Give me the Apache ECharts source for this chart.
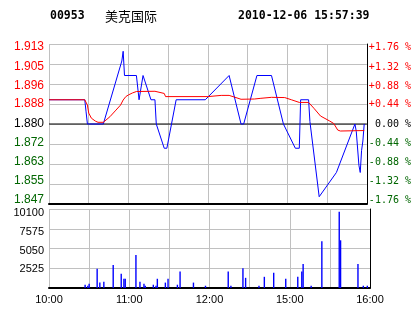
<!DOCTYPE html>
<html><head><meta charset="utf-8">
<script src="https://cdn.jsdelivr.net/npm/echarts@6/dist/echarts.min.js"></script>
<style>html,body{margin:0;padding:0;background:#fff}#c{width:414px;height:314px}</style>
</head><body><div id="c"></div>
<script>
const stockCode = '00953';
const stockName = '美克国际';
const stamp = '2010-12-06 15:57:39';
const prevClose = 1.880;
const priceStep = 0.00825;
const leftTickLabels = ['1.847','1.855','1.863','1.872','1.880','1.888','1.896','1.905','1.913'];
const rightTickLabels = ['-1.76 %','-1.32 %','-0.88 %','-0.44 %',' 0.00 %','+0.44 %','+0.88 %','+1.32 %','+1.76 %'];
const volTickLabels = ['', '2525', '5050', '7575', '10100'];
const xTickLabels = ['10:00','','11:00','','12:00','','15:00','','16:00'];

const priceTimes = ['10:00','10:27','10:28','10:29','10:41','10:55','10:56','10:57','11:06','11:08','11:11','11:12','11:17','11:20','11:21','11:27','11:29','11:36','11:58','12:16','12:25','12:27','14:37','14:48','14:57','15:06','15:09','15:10','15:16','15:17','15:24','15:37','15:51','15:52','15:54','15:55','15:56','15:57','15:58'];
const priceValues = [1.890,1.890,1.885,1.880,1.880,1.906,1.910,1.900,1.900,1.890,1.900,1.900,1.890,1.890,1.880,1.870,1.870,1.890,1.890,1.900,1.880,1.880,1.900,1.900,1.880,1.870,1.870,1.890,1.890,1.881,1.850,1.860,1.880,1.877,1.863,1.860,1.869,1.873,1.880];

const avgTimes = ['10:00','10:27','10:28','10:29','10:30','10:32','10:35','10:37','10:41','10:46','10:50','10:54','10:56','10:58','11:00','11:03','11:06','11:20','11:21','11:27','11:28','12:00','12:10','12:16','12:20','12:25','14:35','14:40','14:48','14:58','15:03','15:09','15:16','15:20','15:25','15:32','15:35','15:38','15:40','15:58'];
const avgValues = [1.8900,1.8900,1.8895,1.8878,1.8845,1.8824,1.8812,1.8807,1.8807,1.8830,1.8854,1.8878,1.8899,1.8913,1.8920,1.8928,1.8934,1.8935,1.8929,1.8926,1.8913,1.8913,1.8918,1.8918,1.8911,1.8902,1.8903,1.8906,1.8910,1.8909,1.8900,1.8889,1.8889,1.8865,1.8833,1.8812,1.8802,1.8775,1.8771,1.8773];

const volTimes = ['10:27','10:29','10:30','10:36','10:38','10:41','10:48','10:54','10:56','10:57','11:05','11:08','11:11','11:12','11:18','11:20','11:21','11:27','11:29','11:36','11:38','11:48','11:57','12:14','12:16','12:25','12:27','14:37','14:41','14:48','14:57','15:06','15:09','15:10','15:16','15:24','15:37','15:38','15:51','15:55','15:58'];
const volValues = [420,290,550,2450,690,800,2950,1810,1180,1180,4210,800,550,290,420,290,1180,690,1180,420,2100,690,290,2100,290,2520,1300,290,1430,1940,1180,1430,2100,3070,290,5970,9760,6100,3070,290,290];

function tradeMinute(t) {
  const p = t.split(':').map(Number);
  let v = p[0] * 60 + p[1] - 600;
  if (v >= 270) v -= 120;
  return v;
}
function toStep(price) { return (price - prevClose) / priceStep; }

const priceData = priceTimes.map((t, i) => [tradeMinute(t), toStep(priceValues[i])]);
const avgData = avgTimes.map((t, i) => [tradeMinute(t), toStep(avgValues[i])]);
const volData = volTimes.map((t, i) => [tradeMinute(t), volValues[i]]);
const zeroData = [[0, toStep(prevClose)], [240, toStep(prevClose)]];

const RED = '#ff0000', GREEN = '#006600', GRIDC = '#c0c0c0';
function sideColor(v) { const k = Math.round(Number(v)); return k > 0 ? RED : (k < 0 ? GREEN : '#000'); }

// label nudges (px, positive = down) so labels sit as in the reference
const priceLabelShift = [-4, -3, -2, -1, 0, 0, 2, 3, 3];
const volLabelShift = [0, 1, 2, 3, 4];
function makeRich(shifts) {
  const r = {};
  shifts.forEach((d, i) => {
    r['s' + i] = {padding: d >= 0 ? [2 * d, 0, 0, 0] : [0, 0, -2 * d, 0]};
  });
  return r;
}
const priceRich = makeRich(priceLabelShift);
const volRich = makeRich(volLabelShift);

const chart = echarts.init(document.getElementById('c'), null, {renderer: 'canvas'});
chart.setOption({
  animation: false,
  backgroundColor: '#fff',
  graphic: [
    {type: 'text', x: 50, y: 16, style: {text: stockCode, font: 'bold 11.5px "DejaVu Sans Mono"', fill: '#000', verticalAlign: 'middle'}},
    {type: 'text', x: 105, y: 16, style: {text: stockName, font: '13px "Noto Sans CJK SC"', fill: '#000', verticalAlign: 'middle'}},
    {type: 'text', x: 238, y: 16, style: {text: stamp, font: 'bold 11.5px "DejaVu Sans Mono"', fill: '#000', verticalAlign: 'middle'}}
  ],
  grid: [
    {left: 49, right: 44, top: 44, height: 160},
    {left: 49, right: 44, top: 209, height: 79}
  ],
  xAxis: [
    {gridIndex: 0, type: 'value', min: 0, max: 240, interval: 30,
     axisLabel: {show: false}, axisTick: {show: false},
     axisLine: {show: true, onZero: false, lineStyle: {color: '#000', width: 2}},
     splitLine: {show: true, lineStyle: {color: GRIDC, width: 1}}},
    {gridIndex: 1, type: 'value', min: 0, max: 240, interval: 30,
     axisTick: {show: false},
     axisLine: {show: true, onZero: false, lineStyle: {color: '#000', width: 2}},
     splitLine: {show: true, lineStyle: {color: GRIDC, width: 1}},
     axisLabel: {show: true, showMinLabel: true, showMaxLabel: true, margin: 6,
       formatter: v => xTickLabels[Math.round(v / 30)] || '',
       color: '#000', fontFamily: 'Liberation Sans', fontSize: 11}}
  ],
  yAxis: [
    {gridIndex: 0, type: 'value', min: -4, max: 4, interval: 1, position: 'left',
     axisLine: {show: false}, axisTick: {show: false},
     splitLine: {show: true, lineStyle: {color: GRIDC, width: 1}},
     axisLabel: {margin: 5, formatter: v => { const i = Math.round(v) + 4; return '{s' + i + '|' + leftTickLabels[i] + '}'; },
       color: sideColor, rich: priceRich,
       fontFamily: 'Liberation Sans', fontSize: 12}},
    {gridIndex: 0, type: 'value', min: -4, max: 4, interval: 1, position: 'right',
     axisLine: {show: true, lineStyle: {color: '#000', width: 1}}, axisTick: {show: false},
     splitLine: {show: false},
     axisLabel: {margin: 2, align: 'left', formatter: v => { const i = Math.round(v) + 4; return '{s' + i + '|' + rightTickLabels[i] + '}'; },
       color: sideColor, rich: priceRich,
       fontFamily: 'DejaVu Sans Mono', fontSize: 10}},
    {gridIndex: 1, type: 'value', min: 0, max: 10100, interval: 2525, position: 'left',
     axisLine: {show: false}, axisTick: {show: false},
     splitLine: {show: true, lineStyle: {color: GRIDC, width: 1}},
     axisLabel: {margin: 5, formatter: v => { const i = Math.round(v / 2525); return volTickLabels[i] ? '{s' + i + '|' + volTickLabels[i] + '}' : ''; },
       color: '#000', rich: volRich,
       fontFamily: 'Liberation Sans', fontSize: 11}},
    {gridIndex: 1, type: 'value', min: 0, max: 10100, interval: 2525, position: 'right',
     axisLine: {show: true, lineStyle: {color: '#000', width: 1}}, axisTick: {show: false},
     splitLine: {show: false}, axisLabel: {show: false}}
  ],
  series: [
    {type: 'line', xAxisIndex: 0, yAxisIndex: 0, data: zeroData, z: 1, silent: true,
     showSymbol: false, symbol: 'none', lineStyle: {color: '#000', width: 1}},
    {type: 'line', xAxisIndex: 0, yAxisIndex: 0, data: priceData, z: 2,
     showSymbol: false, symbol: 'none', lineStyle: {color: '#0000ff', width: 1}},
    {type: 'line', xAxisIndex: 0, yAxisIndex: 0, data: avgData, z: 3,
     showSymbol: false, symbol: 'none', lineStyle: {color: RED, width: 1}},
    {type: 'bar', xAxisIndex: 1, yAxisIndex: 2, data: volData, barWidth: 1.4,
     itemStyle: {color: '#0000ff'}}
  ]
});
</script></body></html>
